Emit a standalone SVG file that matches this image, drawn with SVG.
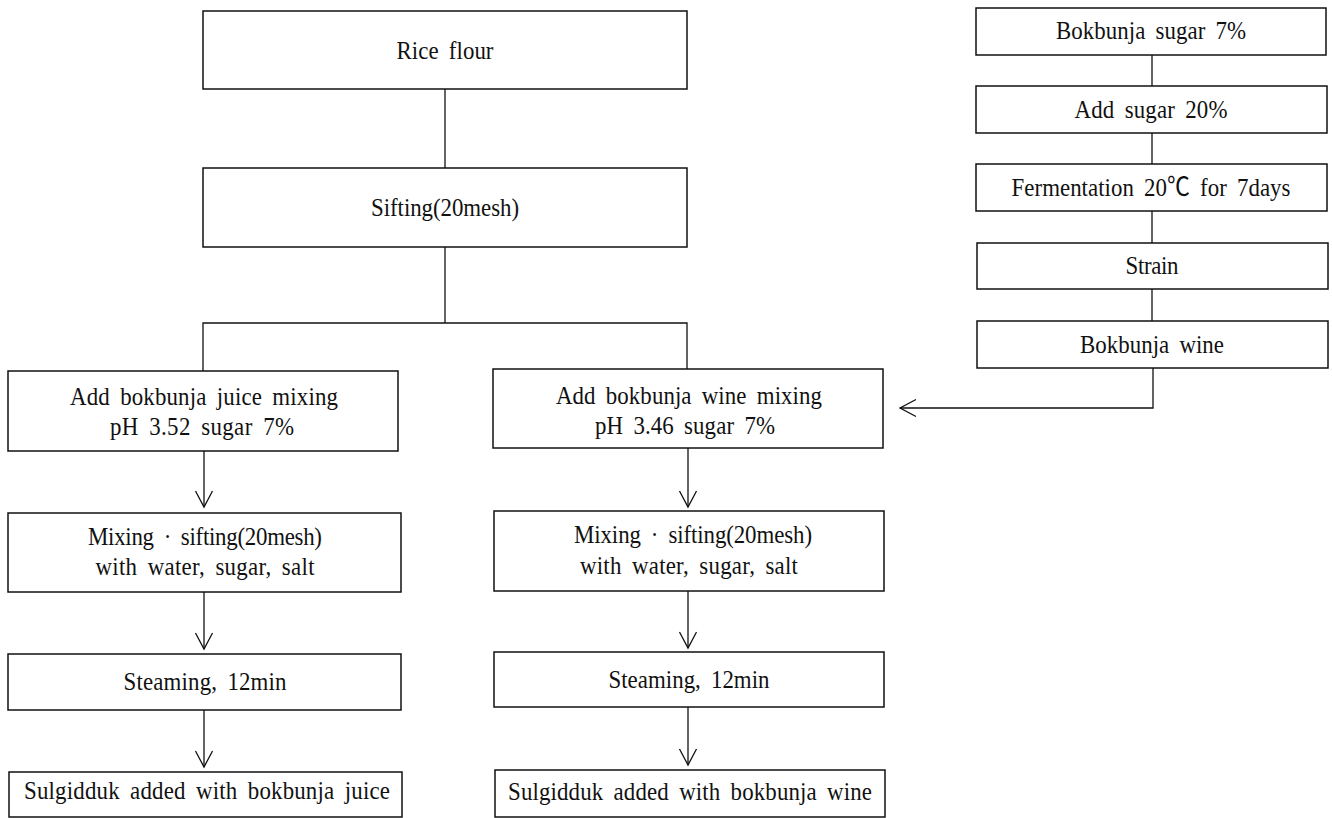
<svg xmlns="http://www.w3.org/2000/svg" width="1332" height="818" viewBox="0 0 1332 818">
<style>
.box{fill:#fff;stroke:#111;stroke-width:1.5}
.t{font-family:"Liberation Serif","Noto Sans CJK KR",serif;font-size:26px;fill:#111;text-anchor:middle;word-spacing:5px}
.ln{fill:none;stroke:#111;stroke-width:1.3}
</style>
<defs>
<marker id="ah" markerUnits="userSpaceOnUse" markerWidth="20" markerHeight="24" viewBox="-18 -12 20 24" refX="0" refY="0" orient="auto">
<path d="M-16,-8.5 L0,0 L-16,8.5" fill="none" stroke="#111" stroke-width="1.3"/>
</marker>
</defs>
<rect width="1332" height="818" fill="#fff"/>
<g id="connectors">
<path class="ln" d="M445,89 V168"/>
<path class="ln" d="M445,247 V323"/>
<path class="ln" d="M203,371 V323 H687 V369"/>
<path class="ln" d="M204,451 V507" marker-end="url(#ah)"/>
<path class="ln" d="M204,592 V649" marker-end="url(#ah)"/>
<path class="ln" d="M204,710 V767" marker-end="url(#ah)"/>
<path class="ln" d="M688,448 V507" marker-end="url(#ah)"/>
<path class="ln" d="M688,591 V648" marker-end="url(#ah)"/>
<path class="ln" d="M688,707 V765" marker-end="url(#ah)"/>
<path class="ln" d="M1152,55 V86"/>
<path class="ln" d="M1152,133 V164"/>
<path class="ln" d="M1152,211 V243"/>
<path class="ln" d="M1152,289 V321"/>
<path class="ln" d="M1153,368 V408 H900" marker-end="url(#ah)"/>
</g>
<g id="rice-flour"><rect class="box" x="203" y="11" width="484" height="78"/><text class="t" transform="translate(445,59) scale(0.88,1)" textLength="110.2" lengthAdjust="spacing">Rice flour</text></g>
<g id="sifting"><rect class="box" x="203" y="168" width="484" height="79"/><text class="t" transform="translate(445,216) scale(0.88,1)" textLength="168.2" lengthAdjust="spacing">Sifting(20mesh)</text></g>
<g id="add-juice"><rect class="box" x="8" y="371" width="390" height="80"/><text class="t" transform="translate(204,405) scale(0.88,1)" textLength="304.5" lengthAdjust="spacing">Add bokbunja juice mixing</text><text class="t" transform="translate(202,435) scale(0.88,1)" textLength="209.1" lengthAdjust="spacing">pH 3.52 sugar 7%</text></g>
<g id="add-wine"><rect class="box" x="493" y="369" width="390" height="79"/><text class="t" transform="translate(689,404) scale(0.88,1)" textLength="302.3" lengthAdjust="spacing">Add bokbunja wine mixing</text><text class="t" transform="translate(685,434) scale(0.88,1)" textLength="204.5" lengthAdjust="spacing">pH 3.46 sugar 7%</text></g>
<g id="mix-juice"><rect class="box" x="8" y="513" width="393" height="79"/><text class="t" transform="translate(205,545) scale(0.88,1)" textLength="265.9" lengthAdjust="spacing">Mixing · sifting(20mesh)</text><text class="t" transform="translate(205,575) scale(0.88,1)" textLength="248.9" lengthAdjust="spacing">with water, sugar, salt</text></g>
<g id="mix-wine"><rect class="box" x="494" y="511" width="390" height="80"/><text class="t" transform="translate(693,543) scale(0.88,1)" textLength="270.5" lengthAdjust="spacing">Mixing · sifting(20mesh)</text><text class="t" transform="translate(689,574) scale(0.88,1)" textLength="247.7" lengthAdjust="spacing">with water, sugar, salt</text></g>
<g id="steam-juice"><rect class="box" x="8" y="654" width="393" height="56"/><text class="t" transform="translate(205,690) scale(0.88,1)" textLength="185.2" lengthAdjust="spacing">Steaming, 12min</text></g>
<g id="steam-wine"><rect class="box" x="494" y="652" width="390" height="55"/><text class="t" transform="translate(689,688) scale(0.88,1)" textLength="183" lengthAdjust="spacing">Steaming, 12min</text></g>
<g id="final-juice"><rect class="box" x="9" y="772" width="393" height="45"/><text class="t" transform="translate(207,799) scale(0.88,1)" textLength="415.9" lengthAdjust="spacing">Sulgidduk added with bokbunja juice</text></g>
<g id="final-wine"><rect class="box" x="495" y="770" width="390" height="47"/><text class="t" transform="translate(690,800) scale(0.88,1)" textLength="413.6" lengthAdjust="spacing">Sulgidduk added with bokbunja wine</text></g>
<g id="bok-sugar"><rect class="box" x="976" y="8" width="350" height="47"/><text class="t" transform="translate(1151,39) scale(0.88,1)" textLength="215.9" lengthAdjust="spacing">Bokbunja sugar 7%</text></g>
<g id="add-sugar"><rect class="box" x="976" y="86" width="351" height="47"/><text class="t" transform="translate(1151,118) scale(0.88,1)" textLength="173.9" lengthAdjust="spacing">Add sugar 20%</text></g>
<g id="fermentation"><rect class="box" x="976" y="164" width="351" height="47"/><text class="t" transform="translate(1151,196) scale(0.88,1)" textLength="317" lengthAdjust="spacing">Fermentation 20℃ for 7days</text></g>
<g id="strain"><rect class="box" x="977" y="243" width="351" height="46"/><text class="t" transform="translate(1152,274) scale(0.88,1)" textLength="60.2" lengthAdjust="spacing">Strain</text></g>
<g id="bok-wine"><rect class="box" x="977" y="321" width="351" height="47"/><text class="t" transform="translate(1152,353) scale(0.88,1)" textLength="163.6" lengthAdjust="spacing">Bokbunja wine</text></g>
</svg>
